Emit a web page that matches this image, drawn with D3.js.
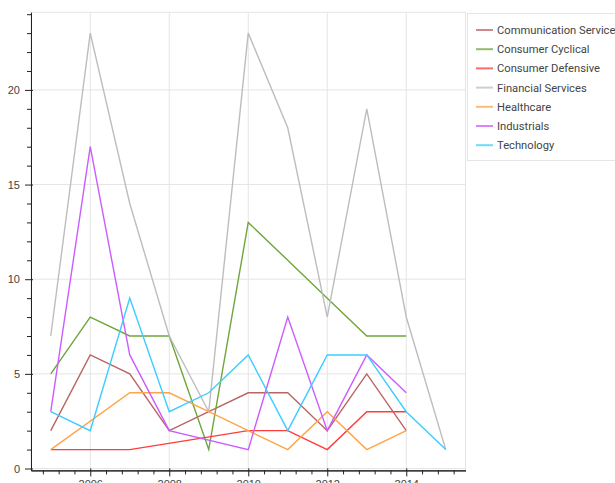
<!DOCTYPE html>
<html>
<head>
<meta charset="utf-8">
<script src="https://cdn.jsdelivr.net/npm/d3@7"></script>
<style>
  body { margin: 0; background: #fff; }
  svg { display: block; font-family: "Liberation Sans", Helvetica, Arial, sans-serif; }
</style>
</head>
<body>
<svg class="chart" width="615" height="483"></svg>
<script>
// sectors in legend order
const sectors = ['Communication Services', 'Consumer Cyclical', 'Consumer Defensive',
  'Financial Services', 'Healthcare', 'Industrials', 'Technology'];
const colors = ['#bb6464', '#6ea63c', '#ff3b3b', '#bdbdbd', '#ffa447', '#cc5cff', '#3ccdff'];

// year / count pairs (missing years are skipped)
const commYears = [2005, 2006, 2007, 2008, 2009, 2010, 2011, 2012, 2013, 2014];
const commCounts = [2, 6, 5, 2, 3, 4, 4, 2, 5, 2];
const cyclYears = [2005, 2006, 2007, 2008, 2009, 2010, 2011, 2012, 2013, 2014];
const cyclCounts = [5, 8, 7, 7, 1, 13, 11, 9, 7, 7];
const defYears = [2005, 2006, 2007, 2010, 2011, 2012, 2013, 2014];
const defCounts = [1, 1, 1, 2, 2, 1, 3, 3];
const finYears = [2005, 2006, 2007, 2008, 2009, 2010, 2011, 2012, 2013, 2014, 2015];
const finCounts = [7, 23, 14, 7, 3, 23, 18, 8, 19, 8, 1];
const healthYears = [2005, 2007, 2008, 2009, 2010, 2011, 2012, 2013, 2014];
const healthCounts = [1, 4, 4, 3, 2, 1, 3, 1, 2];
const indYears = [2005, 2006, 2007, 2008, 2010, 2011, 2012, 2013, 2014];
const indCounts = [3, 17, 6, 2, 1, 8, 2, 6, 4];
const techYears = [2005, 2006, 2007, 2008, 2009, 2010, 2011, 2012, 2013, 2014, 2015];
const techCounts = [3, 2, 9, 3, 4, 6, 2, 6, 6, 3, 1];

const xMajor = [2006, 2008, 2010, 2012, 2014];
const yMajor = [0, 5, 10, 15, 20];

const seriesYears = [commYears, cyclYears, defYears, finYears, healthYears, indYears, techYears];
const seriesCounts = [commCounts, cyclCounts, defCounts, finCounts, healthCounts, indCounts, techCounts];
const series = sectors.map((name, i) => ({
  name,
  color: colors[i],
  values: seriesYears[i].map((yr, j) => ({ year: yr, count: seriesCounts[i][j] })),
}));

const svg = d3.select('.chart');
const frame = { left: 31, right: 465.5, top: 12.3, bottom: 470.4 };

const x = d3.scaleLinear().domain([2004.5, 2015.5]).range([frame.left, frame.right]);
const y = d3.scaleLinear().domain([-0.1, 24.1]).range([frame.bottom, frame.top]);

// frame outline
svg.append('rect')
  .attr('x', frame.left).attr('y', frame.top)
  .attr('width', frame.right - frame.left).attr('height', frame.bottom - frame.top)
  .attr('fill', 'none').attr('stroke', '#e5e5e5');

// grid
const grid = svg.append('g').attr('stroke', '#e5e5e5').attr('stroke-width', 1);
grid.selectAll('.vgrid').data(xMajor).enter().append('line')
  .attr('x1', d => x(d)).attr('x2', d => x(d))
  .attr('y1', frame.top).attr('y2', frame.bottom);
grid.selectAll('.hgrid').data(yMajor).enter().append('line')
  .attr('y1', d => y(d)).attr('y2', d => y(d))
  .attr('x1', frame.left).attr('x2', frame.right);

// lines
const line = d3.line().x(d => x(d.year)).y(d => y(d.count));
svg.append('g').selectAll('path')
  .data(series)
  .enter()
  .append('path')
  .attr('fill', 'none')
  .attr('stroke', d => d.color)
  .attr('stroke-width', 1.4)
  .attr('d', d => line(d.values));

// axes
const xMinor = d3.range(2004.8, 2015.3, 0.4).filter(v => !xMajor.some(m => Math.abs(m - v) < 0.01));
const yMinor = d3.range(0, 25).filter(v => v % 5 !== 0);

function styleAxis(g) {
  g.select('.domain').attr('stroke', '#222');
  g.selectAll('.tick line').attr('stroke', '#222');
  g.selectAll('.tick text').attr('fill', '#444').style('font-size', '11px')
    .style('font-family', '"Liberation Sans", Helvetica, Arial, sans-serif');
}

svg.append('g')
  .attr('transform', `translate(0, ${frame.bottom})`)
  .call(d3.axisBottom(x).tickValues(xMinor).tickSize(4).tickFormat('').tickSizeOuter(0))
  .call(styleAxis);
svg.append('g')
  .attr('transform', `translate(0, ${frame.bottom})`)
  .call(d3.axisBottom(x).tickValues(xMajor).tickSize(6).tickPadding(4).tickFormat(d3.format('d')).tickSizeOuter(0))
  .call(styleAxis)
  .call(g => g.selectAll('.tick line').attr('y1', -2));

svg.append('g')
  .attr('transform', `translate(${frame.left}, 0)`)
  .call(d3.axisLeft(y).tickValues(yMinor).tickSize(4).tickFormat('').tickSizeOuter(0))
  .call(styleAxis);
svg.append('g')
  .attr('transform', `translate(${frame.left}, 0)`)
  .call(d3.axisLeft(y).tickValues(yMajor).tickSize(6).tickPadding(5).tickSizeOuter(0))
  .call(styleAxis)
  .call(g => g.selectAll('.tick line').attr('x1', 2));

// legend
const legend = svg.append('g').attr('class', 'legend');
legend.append('rect')
  .attr('x', 467.5).attr('y', 13.5)
  .attr('width', 170).attr('height', 147)
  .attr('fill', '#fff').attr('fill-opacity', 0.95)
  .attr('stroke', '#e5e5e5');

const item = legend.selectAll('.item')
  .data(series)
  .enter()
  .append('g')
  .attr('class', 'item')
  .attr('transform', (d, i) => `translate(0, ${30 + i * 19.2})`);
item.append('line')
  .attr('x1', 476).attr('x2', 493)
  .attr('stroke', d => d.color)
  .attr('stroke-opacity', 0.75)
  .attr('stroke-width', 2);
item.append('text')
  .attr('x', 497)
  .attr('dy', '0.35em')
  .attr('fill', '#444')
  .style('font-family', 'Roboto, "Liberation Sans", Arial, sans-serif')
  .style('font-size', '11.2px')
  .text(d => d.name);
</script>
</body>
</html>
